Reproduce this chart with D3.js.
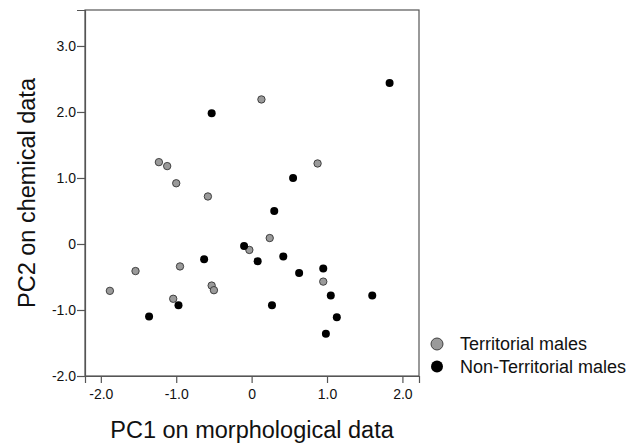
<!DOCTYPE html>
<html>
<head>
<meta charset="utf-8">
<script src="https://cdn.jsdelivr.net/npm/d3@7"></script>
<style>
  body { margin: 0; background: #fff; }
  text { font-family: "Liberation Sans", Arial, sans-serif; fill: #111; }
</style>
</head>
<body>
<script>
// territorial males (grey)
var terrX = [0.13, -1.23, -1.12, -1.00, -0.58, 0.875, 0.24, -0.03, -0.95, -1.54, -1.88, 0.95, -0.53, -0.50, -1.04];
var terrY = [2.19, 1.24, 1.18, 0.92, 0.72, 1.22, 0.09, -0.09, -0.34, -0.41, -0.71, -0.57, -0.63, -0.70, -0.83];
// non-territorial males (black)
var nonX = [-0.53, 1.83, 0.55, 0.30, -0.10, 0.08, 0.42, -0.63, 0.63, 0.95, 1.05, 1.60, 1.13, 0.985, 0.27, -0.97, -1.36];
var nonY = [1.98, 2.44, 1.00, 0.50, -0.03, -0.26, -0.19, -0.23, -0.44, -0.37, -0.78, -0.78, -1.11, -1.36, -0.93, -0.93, -1.10];

var xTicks = [-2, -1, 0, 1, 2];
var yTicks = [-2, -1, 0, 1, 2, 3];
var seriesNames = ["Territorial males", "Non-Territorial males"];
var seriesColors = ["#9a9a9a", "#000000"];

var width = 644, height = 448;
var plotLeft = 85, plotRight = 419, plotTop = 10, plotBottom = 376;

var svg = d3.select("body").append("svg").attr("width", width).attr("height", height);

var x = d3.scaleLinear().domain([-2.21, 2.22]).range([plotLeft, plotRight]);
var y = d3.scaleLinear().domain([-2, 3.545]).range([plotBottom, plotTop]);

function fmt(d) { return d === 0 ? "0" : d.toFixed(1); }

// frame
svg.append("rect").attr("x", plotLeft).attr("y", plotTop)
  .attr("width", plotRight - plotLeft).attr("height", plotBottom - plotTop)
  .attr("fill", "none").attr("stroke", "#555").attr("stroke-width", 1.2);

var xAxis = svg.append("g").attr("transform", "translate(0," + plotBottom + ")")
  .call(d3.axisBottom(x).tickValues(xTicks).tickFormat(fmt).tickSizeOuter(0).tickSize(7).tickPadding(6));
var yAxis = svg.append("g").attr("transform", "translate(" + plotLeft + ",0)")
  .call(d3.axisLeft(y).tickValues(yTicks).tickFormat(fmt).tickSizeOuter(0).tickSize(8).tickPadding(1));
[xAxis, yAxis].forEach(function (a) {
  a.select(".domain").attr("stroke", "#555").attr("stroke-width", 1.2);
  a.selectAll(".tick line").attr("stroke", "#555").attr("stroke-width", 1.2);
  a.selectAll(".tick text").attr("font-size", "14px")
    .attr("font-family", "Liberation Sans, Arial, sans-serif").attr("fill", "#111");
});

// axis titles
svg.append("text").attr("x", (plotLeft + plotRight) / 2).attr("y", 438)
  .attr("text-anchor", "middle").attr("font-size", "23.5px").text("PC1 on morphological data");
svg.append("text").attr("transform", "translate(35," + ((plotTop + plotBottom) / 2) + ") rotate(-90)")
  .attr("text-anchor", "middle").attr("font-size", "23.5px").text("PC2 on chemical data");

// points
var terr = terrX.map(function (d, i) { return [d, terrY[i]]; });
var non = nonX.map(function (d, i) { return [d, nonY[i]]; });

svg.append("g").selectAll("circle").data(terr).enter().append("circle")
  .attr("cx", function (d) { return x(d[0]); })
  .attr("cy", function (d) { return y(d[1]); })
  .attr("r", 3.7).attr("fill", seriesColors[0]).attr("stroke", "#333").attr("stroke-width", 0.9);

svg.append("g").selectAll("circle").data(non).enter().append("circle")
  .attr("cx", function (d) { return x(d[0]); })
  .attr("cy", function (d) { return y(d[1]); })
  .attr("r", 4).attr("fill", seriesColors[1]);

// legend
var legend = svg.append("g").selectAll("g").data(seriesNames).enter().append("g")
  .attr("transform", function (d, i) { return "translate(437," + (344 + i * 22.5) + ")"; });
legend.append("circle").attr("r", 6)
  .attr("fill", function (d, i) { return seriesColors[i]; })
  .attr("stroke", function (d, i) { return i === 0 ? "#333" : "none"; }).attr("stroke-width", 0.9);
legend.append("text").attr("x", 23).attr("dy", "0.35em").attr("font-size", "18px")
  .text(function (d) { return d; });
</script>
</body>
</html>
